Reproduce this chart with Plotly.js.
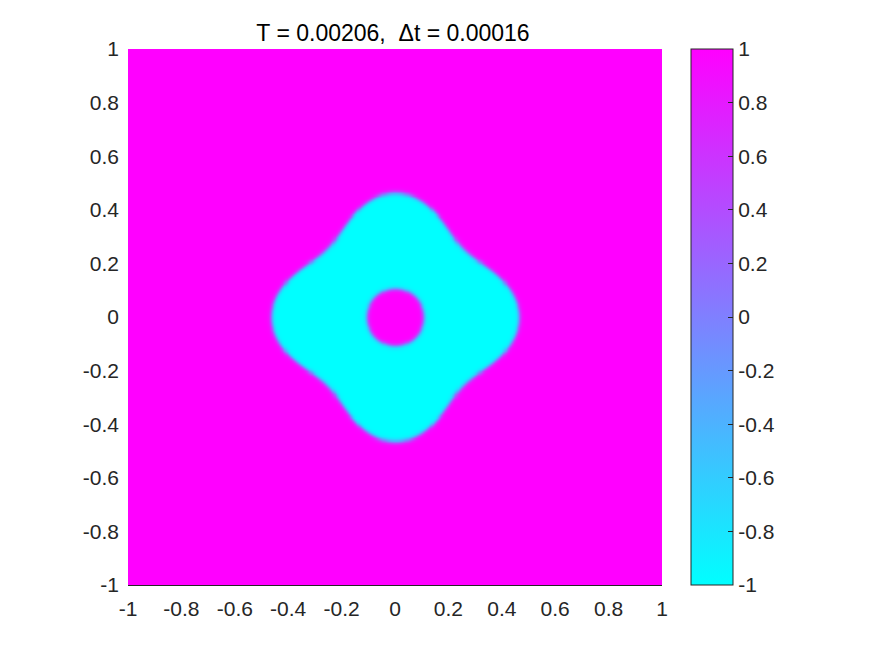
<!DOCTYPE html>
<html>
<head>
<meta charset="utf-8">
<script src="https://cdn.plot.ly/plotly-3.0.1.min.js"></script>
<style>html,body{margin:0;padding:0;background:#fff;}#chart{width:875px;height:656px;}</style>
</head>
<body>
<div id="chart"></div>
<script>
// Values
const titleText = "T = 0.00206,  \u0394t = 0.00016";
const tickVals = [-1, -0.8, -0.6, -0.4, -0.2, 0, 0.2, 0.4, 0.6, 0.8, 1];
const tickText = ["-1", "-0.8", "-0.6", "-0.4", "-0.2", "0", "0.2", "0.4", "0.6", "0.8", "1"];
const cbTickVals = [-1, -0.8, -0.6, -0.4, -0.2, 0, 0.2, 0.4, 0.6, 0.8, 1];
const cbTickText = ["-1", "-0.8", "-0.6", "-0.4", "-0.2", "0", "0.2", "0.4", "0.6", "0.8", "1"];
// Outer interface radius at angles 0°, 22.5°, 45° (4-fold symmetric shape)
const outerAngleDeg = [0, 22.5, 45];
const outerRadius = [0.464, 0.412, 0.361];
// Inner hole radius, interface width, phase values
const innerRadius = [0.107];
const interfaceWidth = [0.0095];
const phaseValues = [-1, 1]; // inside (cyan), outside (magenta)
const gridN = [257];

// Build the field from those readings
const r0 = outerRadius[0], r1 = outerRadius[1], r2 = outerRadius[2];
const a4 = (r0 - r2) / 2;
const a0 = ((r0 + r2) / 2 + r1) / 2;
const a8 = ((r0 + r2) / 2 - r1) / 2;
const N = gridN[0];
const xs = [], ys = [];
for (let i = 0; i < N; i++) { xs.push(-1 + 2 * i / (N - 1)); ys.push(-1 + 2 * i / (N - 1)); }
const z = [];
for (let j = 0; j < N; j++) {
  const row = [];
  for (let i = 0; i < N; i++) {
    const x = xs[i], y = ys[j];
    const r = Math.sqrt(x * x + y * y);
    const th = Math.atan2(y, x);
    const R = a0 + a4 * Math.cos(4 * th) + a8 * Math.cos(8 * th);
    const w = interfaceWidth[0];
    const uo = Math.tanh((r - R) / w);
    const ui = Math.tanh((innerRadius[0] - r) / w);
    row.push(Math.max(uo, ui) * phaseValues[1]);
  }
  z.push(row);
}

const font = {family: "Liberation Sans, Arial, sans-serif", size: 21, color: "#262626"};
const trace = {
  type: "heatmap", x: xs, y: ys, z: z, zmin: -1, zmax: 1, zsmooth: "best",
  colorscale: [[0, "rgb(0,255,255)"], [1, "rgb(255,0,255)"]],
  colorbar: {
    x: (691 - 128) / 534, xanchor: "left", xref: "paper",
    y: 0.5, yanchor: "middle", len: 1, lenmode: "fraction",
    thickness: 42, thicknessmode: "pixels", xpad: 0, ypad: 0,
    outlinewidth: 1, outlinecolor: "#262626",
    tickvals: cbTickVals, ticktext: cbTickText, ticks: "inside", ticklen: 5,
    tickcolor: "#262626", tickfont: font, ticklabelstandoff: 3
  },
  hoverinfo: "skip"
};
const layout = {
  width: 875, height: 656,
  margin: {l: 128, r: 213, t: 49, b: 71, pad: 0},
  paper_bgcolor: "#fff", plot_bgcolor: "#fff",
  title: {text: titleText, font: {family: font.family, size: 23, color: "#000"}, x: 393 / 875, xanchor: "center", y: 1 - 33 / 656, yanchor: "middle"},
  xaxis: {range: [-1, 1], tickvals: tickVals, ticktext: tickText, tickfont: font, showgrid: false, zeroline: false,
          showline: true, linecolor: "#262626", linewidth: 1, ticks: "", ticklabelstandoff: 5},
  yaxis: {range: [-1, 1], tickvals: tickVals, ticktext: tickText, tickfont: font, showgrid: false, zeroline: false,
          showline: false, ticks: "", ticklabelstandoff: 8},
  showlegend: false
};
Plotly.newPlot("chart", [trace], layout, {displayModeBar: false, staticPlot: true});
</script>
</body>
</html>
